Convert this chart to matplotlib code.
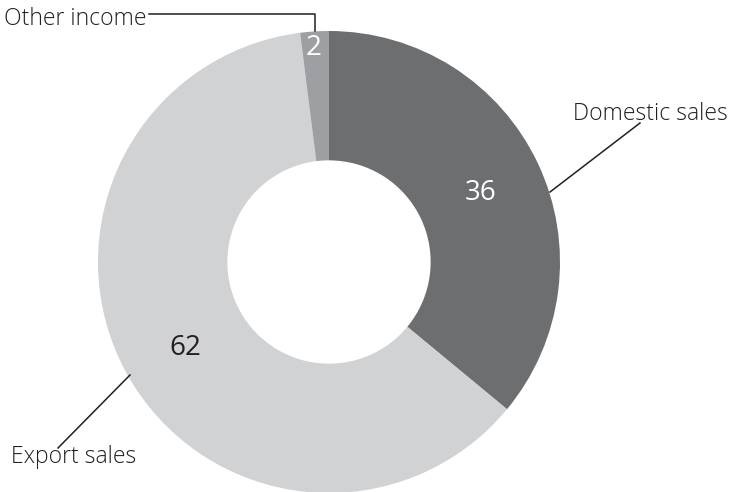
import matplotlib.pyplot as plt

# Data (percent of income)
labels = ['Domestic sales', 'Export sales', 'Other income']
values = [36, 62, 2]
colors = ['#6d6e70', '#d1d2d4', '#9d9fa2']
value_colors = ['white', '#231f20', 'white']

W, H = 732, 492
fig = plt.figure(figsize=(W / 100, H / 100), dpi=100)
ax = fig.add_axes([0, 0, 1, 1])

cx, cy, r = 329, H - 262, 231
ax.pie(values, colors=colors, startangle=90, counterclock=False,
       center=(cx, cy), radius=r, frame=True,
       wedgeprops=dict(width=r * 0.56, linewidth=0))
ax.set_xlim(0, W)
ax.set_ylim(0, H)
ax.set_aspect('equal')
ax.axis('off')

font = 'Open Sans'
txt = dict(family=font, weight='light', color='#231f20', fontsize=16.5)

# value labels inside the ring
value_pos = [(481, 193), (185, 348), (314, 48)]
for v, (x, y), c in zip(values, value_pos, value_colors):
    ax.text(x, H - y, str(v), ha='center', va='center', fontsize=20,
            family=font, color=c)

# leader lines and category labels
line_kw = dict(color='#231f20', lw=1.1)
ax.plot([640, 550], [H - 123, H - 192], **line_kw)
ax.text(573, H - 114, labels[0], ha='left', va='center', **txt)

ax.plot([130, 58], [H - 375, H - 448], **line_kw)
ax.text(11, H - 457, labels[1], ha='left', va='center', **txt)

other = ax.text(4, H - 19, labels[2], ha='left', va='center', **txt)
fig.canvas.draw()
x_end = other.get_window_extent().x1 + 2
ax.plot([x_end, 315, 315], [H - 14, H - 14, H - 31], **line_kw)

fig.savefig('out.png', dpi=100)
